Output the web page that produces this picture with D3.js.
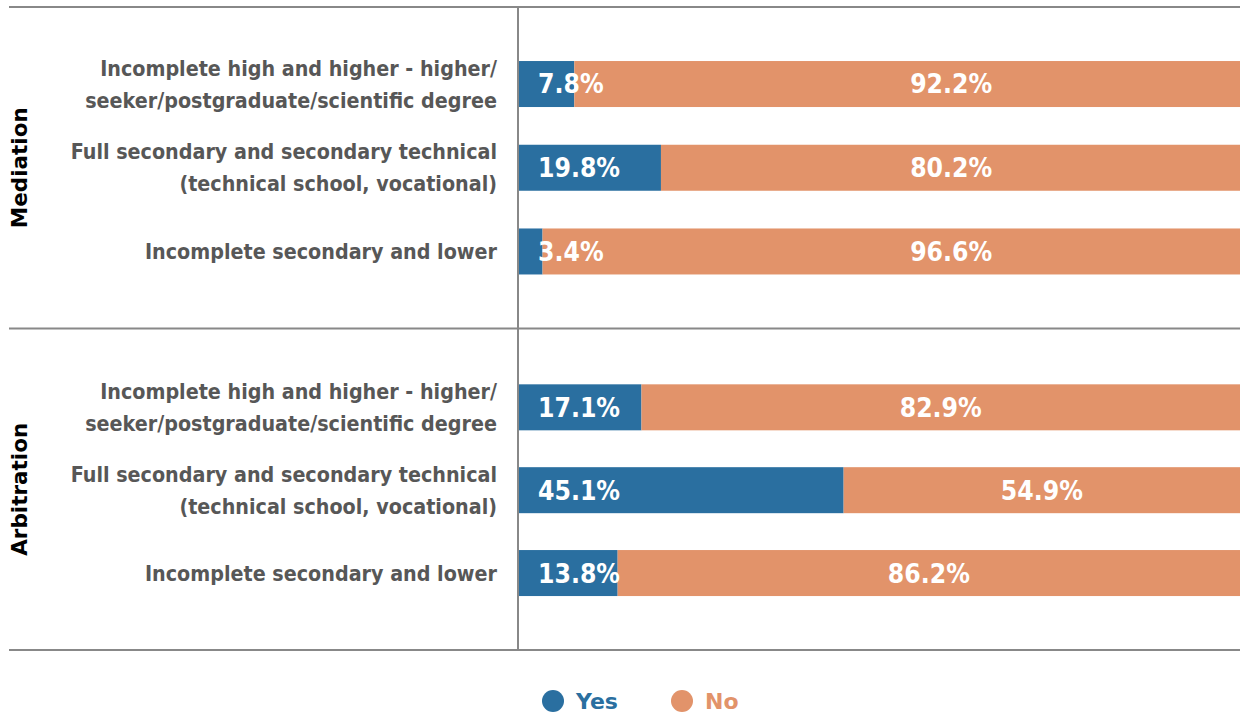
<!DOCTYPE html>
<html>
<head>
<meta charset="utf-8">
<script src="https://cdn.jsdelivr.net/npm/d3@7"></script>
<style>
  html, body { margin: 0; padding: 0; background: #fff; }
  svg { display: block; }
</style>
</head>
<body>
<svg id="chart" width="1240" height="715"></svg>
<script>
// Survey groups, education levels and shares answering Yes / No (%)
const groups = ["Mediation", "Arbitration"];
const categories = [
  ["Incomplete high and higher - higher/", "seeker/postgraduate/scientific degree"],
  ["Full secondary and secondary technical", "(technical school, vocational)"],
  ["Incomplete secondary and lower"]
];
const yesMediation = [7.8, 19.8, 3.4];
const noMediation = [92.2, 80.2, 96.6];
const yesArbitration = [17.1, 45.1, 13.8];
const noArbitration = [82.9, 54.9, 86.2];
// In the Mediation panel the "No" labels share one column (percent position)
const noLabelColumn = [60, null];
const seriesNames = ["Yes", "No"];

const colors = { Yes: "#2a6fa0", No: "#e2936a" };
const labelFont = "'DejaVu Sans Condensed', 'DejaVu Sans', sans-serif";

const svg = d3.select("#chart");
const W = 1240;
const plotLeft = 518, plotRight = 1240;
const plotTop = 7, plotBottom = 650;
const barH = 46;

const x = d3.scaleLinear().domain([0, 100]).range([plotLeft, plotRight]);
const gScale = d3.scaleBand().domain(groups).range([plotTop, plotBottom]);
const catKeys = categories.map((c, i) => i);

const panels = [
  { name: "Mediation", yes: yesMediation, no: noMediation, col: noLabelColumn[0], pad: 0.92, align: 0.5 },
  { name: "Arbitration", yes: yesArbitration, no: noArbitration, col: noLabelColumn[1], pad: 0.94, align: 0.506 }
];

panels.forEach(p => {
  const g0 = gScale(p.name), g1 = g0 + gScale.bandwidth();
  const y = d3.scalePoint().domain(catKeys).range([g0, g1]).padding(p.pad).align(p.align);
  const rows = catKeys.map(i => ({ i, yes: p.yes[i], no: p.no[i] }));
  const g = svg.append("g");

  // Yes segments
  g.selectAll("rect.yes").data(rows).join("rect").attr("class", "yes")
    .attr("x", x(0)).attr("y", d => y(d.i) - barH / 2)
    .attr("width", d => x(d.yes) - x(0)).attr("height", barH)
    .attr("fill", colors.Yes);
  // No segments
  g.selectAll("rect.no").data(rows).join("rect").attr("class", "no")
    .attr("x", d => x(d.yes)).attr("y", d => y(d.i) - barH / 2)
    .attr("width", d => x(d.yes + d.no) - x(d.yes)).attr("height", barH)
    .attr("fill", colors.No);

  // Value labels
  g.selectAll("text.yesv").data(rows).join("text").attr("class", "yesv")
    .attr("x", x(0) + 20).attr("y", d => y(d.i)).attr("dy", "0.36em")
    .attr("fill", "#fff").attr("font-family", labelFont).attr("font-weight", "bold")
    .attr("font-size", 26.3).text(d => d.yes.toFixed(1) + "%");
  g.selectAll("text.nov").data(rows).join("text").attr("class", "nov")
    .attr("x", d => p.col != null ? x(p.col) : x(d.yes + d.no / 2))
    .attr("y", d => y(d.i)).attr("dy", "0.36em").attr("text-anchor", "middle")
    .attr("fill", "#fff").attr("font-family", labelFont).attr("font-weight", "bold")
    .attr("font-size", 26.3).text(d => d.no.toFixed(1) + "%");

  // Category labels
  rows.forEach(d => {
    const lines = categories[d.i];
    const t = g.append("text")
      .attr("text-anchor", "end").attr("fill", "#575757")
      .attr("font-family", labelFont).attr("font-weight", "bold").attr("font-size", 21.3);
    lines.forEach((ln, k) => {
      t.append("tspan").attr("x", 497)
        .attr("y", y(d.i) + (k - (lines.length - 1) / 2) * 32)
        .attr("dy", "0.36em").text(ln);
    });
  });

  // Group title
  const cy = (g0 + g1) / 2;
  g.append("text")
    .attr("transform", `translate(27,${cy}) rotate(-90)`)
    .attr("text-anchor", "middle")
    .attr("font-family", "'DejaVu Sans', sans-serif").attr("font-weight", "bold")
    .attr("font-size", 21.5).attr("fill", "#000").text(p.name);
});

// Frame lines
const lineColor = "#888";
[plotTop, gScale("Arbitration"), plotBottom].forEach(yy => {
  svg.append("line").attr("x1", 9).attr("x2", W).attr("y1", yy).attr("y2", yy)
    .attr("stroke", lineColor).attr("stroke-width", 2);
});
svg.append("line").attr("x1", plotLeft).attr("x2", plotLeft).attr("y1", plotTop).attr("y2", plotBottom)
  .attr("stroke", lineColor).attr("stroke-width", 2);

// Legend
const legend = svg.append("g").attr("transform", "translate(553,701)");
const lx = [0, 129];
seriesNames.forEach((s, i) => {
  legend.append("circle").attr("cx", lx[i]).attr("cy", 0).attr("r", 11).attr("fill", colors[s]);
  legend.append("text").attr("x", lx[i] + 23).attr("y", 0).attr("dy", "0.36em")
    .attr("font-family", "'DejaVu Sans', sans-serif").attr("font-weight", "bold")
    .attr("font-size", 22).attr("fill", colors[s]).text(s);
});
</script>
</body>
</html>
